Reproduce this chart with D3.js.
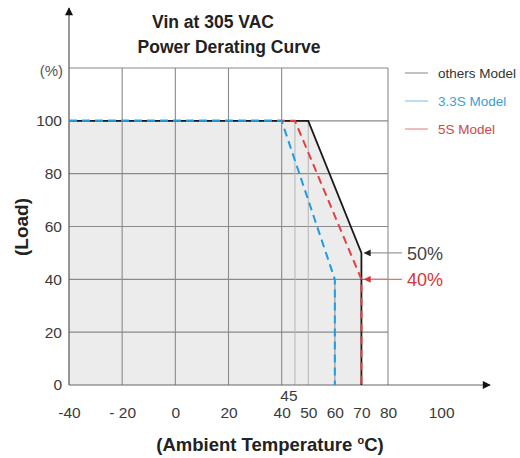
<!DOCTYPE html>
<html>
<head>
<meta charset="utf-8">
<script src="https://cdn.jsdelivr.net/npm/d3@7"></script>
<style>
  body { margin: 0; background: #fff; }
  svg { font-family: "Liberation Sans", Arial, sans-serif; }
</style>
</head>
<body>
<svg id="chart" width="520" height="458"></svg>
<script>
// ——— DATA —————————————————————————————————————————————————————————
const othersTemp = [-40, 50, 70, 70];
const othersLoad = [100, 100, 50, 0];
const s33Temp = [-40, 40, 60, 60];
const s33Load = [100, 100, 40, 0];
const s5Temp = [-40, 45, 70, 70];
const s5Load = [100, 100, 40, 0];

const xTicks = [-40, -20, 0, 20, 40, 50, 60, 70, 80, 100];
const xTickLabels = ["-40", "- 20", "0", "20", "40", "50", "60", "70", "80", "100"];
const yTicks = [0, 20, 40, 60, 80, 100];
const gridX = [-20, 0, 20, 40, 80];
const gridY = [20, 40, 60, 80, 100, 120];
const legendNames = ["others Model", "3.3S Model", "5S Model"];

const zip = (xs, ys) => xs.map((t, i) => ({ t, v: ys[i] }));

const svg = d3.select("#chart");

// ——— SCALES ————————————————————————————————————————————————————————
const x = d3.scaleLinear().domain([-40, 80]).range([69, 388]);
const y = d3.scaleLinear().domain([0, 120]).range([385, 68]);

const line = d3.line().x(d => x(d.t)).y(d => y(d.v));

// markers
const defs = svg.append("defs");
function marker(id, color, w, h) {
    defs.append("marker")
        .attr("id", id)
        .attr("viewBox", "0 0 10 10")
        .attr("refX", 9).attr("refY", 5)
        .attr("markerWidth", w).attr("markerHeight", h)
        .attr("markerUnits", "userSpaceOnUse")
        .attr("orient", "auto")
        .append("path").attr("d", "M0,0 L10,5 L0,10 z").attr("fill", color);
}
marker("axArrow", "#111", 9, 8);
marker("grayArrow", "#222", 9, 7);
marker("redArrow", "#d83434", 9, 7);

// ——— FILL ——————————————————————————————————————————————————————————
const others = zip(othersTemp, othersLoad);
svg.append("path")
    .attr("d", line(others.concat([{ t: -40, v: 0 }])) + "Z")
    .attr("fill", "#ececec");

// ——— GRID ——————————————————————————————————————————————————————————
const grid = svg.append("g").attr("stroke", "#8a8a8a").attr("stroke-width", 1.1);
gridX.forEach(t => grid.append("line")
    .attr("x1", x(t)).attr("x2", x(t)).attr("y1", y(0)).attr("y2", y(120)));
gridY.forEach(v => grid.append("line")
    .attr("x1", x(-40)).attr("x2", x(80)).attr("y1", y(v)).attr("y2", y(v)));
// lighter lines at 45 / 50 / 60 inside the shaded area
[45, 50].forEach(t => svg.append("line")
    .attr("x1", x(t)).attr("x2", x(t)).attr("y1", y(0)).attr("y2", y(100))
    .attr("stroke", "#b4b4b4").attr("stroke-width", 1));
svg.append("line")
    .attr("x1", x(60)).attr("x2", x(60)).attr("y1", y(0)).attr("y2", y(40))
    .attr("stroke", "#aaa").attr("stroke-width", 1.5);

// ——— AXES ——————————————————————————————————————————————————————————
svg.append("line")
    .attr("x1", x(-40)).attr("x2", x(-40)).attr("y1", y(0)).attr("y2", 8)
    .attr("stroke", "#555").attr("stroke-width", 1.2)
    .attr("marker-end", "url(#axArrow)");
svg.append("line")
    .attr("x1", x(-40)).attr("x2", 490).attr("y1", y(0)).attr("y2", y(0))
    .attr("stroke", "#666").attr("stroke-width", 1.2)
    .attr("marker-end", "url(#axArrow)");

const xAxis = svg.append("g")
    .attr("transform", `translate(0,${y(0) + 22})`)
    .call(d3.axisBottom(x).tickValues(xTicks).tickSize(0).tickPadding(0)
        .tickFormat((d, i) => xTickLabels[i]));
xAxis.select(".domain").remove();
xAxis.selectAll("text").attr("font-size", 15.5).attr("fill", "#3a3a3a")
    .attr("font-family", "Liberation Sans, Arial, sans-serif");

svg.append("text")
    .attr("x", x(45) - 6).attr("y", 401)
    .attr("text-anchor", "middle").attr("font-size", 15.5).attr("fill", "#3a3a3a")
    .text("45");

const yAxis = svg.append("g")
    .attr("transform", `translate(${x(-40)},0)`)
    .call(d3.axisLeft(y).tickValues(yTicks).tickSize(0).tickPadding(7));
yAxis.select(".domain").remove();
yAxis.selectAll("text").attr("font-size", 15.5).attr("fill", "#3a3a3a")
    .attr("font-family", "Liberation Sans, Arial, sans-serif");

svg.append("text").attr("x", 63).attr("y", 76).attr("text-anchor", "end")
    .attr("font-size", 15).attr("fill", "#555").text("(%)");

// ——— LINES —————————————————————————————————————————————————————————
svg.append("path").attr("d", line(others))
    .attr("fill", "none").attr("stroke", "#1a1a1a").attr("stroke-width", 1.8);
svg.append("path").attr("d", line(zip(s5Temp, s5Load)))
    .attr("fill", "none").attr("stroke", "#e04040").attr("stroke-width", 2)
    .attr("stroke-dasharray", "8,5");
svg.append("path").attr("d", line(zip(s33Temp, s33Load)))
    .attr("fill", "none").attr("stroke", "#1f9ce0").attr("stroke-width", 2)
    .attr("stroke-dasharray", "8,5");

// ——— ANNOTATIONS ———————————————————————————————————————————————————
svg.append("line").attr("x1", 402).attr("x2", x(70) + 3)
    .attr("y1", y(50)).attr("y2", y(50))
    .attr("stroke", "#999").attr("stroke-width", 1.2)
    .attr("marker-end", "url(#grayArrow)");
svg.append("text").attr("x", 407).attr("y", y(50) + 7)
    .attr("font-size", 18).attr("fill", "#444").text("50%");
svg.append("line").attr("x1", 402).attr("x2", x(70) + 3)
    .attr("y1", y(40)).attr("y2", y(40))
    .attr("stroke", "#e87070").attr("stroke-width", 1.2)
    .attr("marker-end", "url(#redArrow)");
svg.append("text").attr("x", 407).attr("y", y(40) + 7)
    .attr("font-size", 18).attr("fill", "#d83434").text("40%");

// ——— LEGEND ————————————————————————————————————————————————————————
const legLine = ["#9a9a9a", "#86c8ea", "#e89090"];
const legText = ["#333", "#3a9fd8", "#d04848"];
legendNames.forEach((name, i) => {
    const ly = 73 + i * 28;
    svg.append("line").attr("x1", 405).attr("x2", 428).attr("y1", ly).attr("y2", ly)
        .attr("stroke", legLine[i]).attr("stroke-width", 1.2);
    svg.append("text").attr("x", 438).attr("y", ly + 5)
        .attr("font-size", 13.5).attr("fill", legText[i]).text(name);
});

// ——— TITLES ————————————————————————————————————————————————————————
svg.append("text").attr("x", 213).attr("y", 28).attr("text-anchor", "middle")
    .attr("font-size", 17.5).attr("font-weight", "bold").attr("fill", "#222")
    .text("Vin at 305 VAC");
svg.append("text").attr("x", 229).attr("y", 53).attr("text-anchor", "middle")
    .attr("font-size", 17.5).attr("font-weight", "bold").attr("fill", "#222")
    .text("Power Derating Curve");
svg.append("text")
    .attr("transform", "translate(28,227) rotate(-90)")
    .attr("text-anchor", "middle").attr("font-size", 19).attr("font-weight", "bold")
    .attr("fill", "#222").text("(Load)");
const xl = svg.append("text").attr("x", 270).attr("y", 451).attr("text-anchor", "middle")
    .attr("font-size", 18.5).attr("font-weight", "bold").attr("fill", "#222");
xl.append("tspan").text("(Ambient Temperature  ");
xl.append("tspan").attr("font-size", 11).attr("dy", -7).text("o");
xl.append("tspan").attr("dy", 7).text("C)");
</script>
</body>
</html>
